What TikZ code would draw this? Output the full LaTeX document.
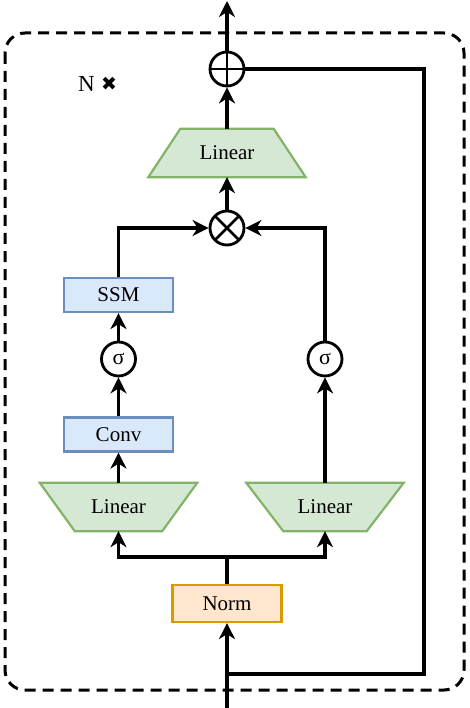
\documentclass[tikz,border=0pt]{standalone}
\usepackage{fontspec}
\setmainfont{Liberation Serif}
\newfontfamily\symfont{DejaVu Sans}
\usetikzlibrary{arrows.meta,backgrounds}
\definecolor{gfill}{HTML}{D5E8D4}
\definecolor{gline}{HTML}{82B366}
\definecolor{bfill}{HTML}{DAE8FC}
\definecolor{bline}{HTML}{6C8EBF}
\definecolor{ofill}{HTML}{FFE6CC}
\definecolor{oline}{HTML}{D79B00}
\tikzset{
  conn/.style={line width=3.4pt, draw=black},
  arr/.style={conn, -{Stealth[length=16pt,width=16pt,inset=5pt]}},
  lintxt/.style={rectangle, minimum width=157pt, minimum height=48pt, inner sep=0pt,
    font=\fontsize{21}{24}\selectfont},
  trapst/.style={draw=gline, fill=gfill, line width=2.2pt, line join=miter},
  bbox/.style={rectangle, draw=bline, fill=bfill, line width=2.2pt,
    minimum width=109pt, minimum height=34pt, inner sep=0pt, font=\fontsize{21}{24}\selectfont},
  obox/.style={rectangle, draw=oline, fill=ofill, line width=2.2pt,
    minimum width=109pt, minimum height=37pt, inner sep=0pt, font=\fontsize{21}{24}\selectfont},
  opcirc/.style={circle, draw=black, line width=2.8pt, minimum size=34pt, inner sep=0pt, fill=white},
  plusop/.style={opcirc, path picture={
     \draw[line width=2.8pt] (path picture bounding box.north) -- (path picture bounding box.south);
     \draw[line width=2.8pt] (path picture bounding box.west) -- (path picture bounding box.east);}},
  timesop/.style={opcirc, path picture={
     \draw[line width=2.8pt] (path picture bounding box.north west) -- (path picture bounding box.south east);
     \draw[line width=2.8pt] (path picture bounding box.north east) -- (path picture bounding box.south west);}},
  sigop/.style={opcirc, font=\fontsize{22}{24}\selectfont},
}
\begin{document}
\begin{tikzpicture}[x=1pt,y=-1pt]
\useasboundingbox (0,0) rectangle (469,708);
\draw[line width=3pt, dash pattern=on 11pt off 7pt, rounded corners=20pt] (5,33) rectangle (464,690);
\node[font=\fontsize{23}{26}\selectfont, anchor=west, inner sep=0pt] (nlab) at (78,84) {N};
\node[font=\symfont\fontsize{19}{21}\selectfont, inner sep=0pt] (ncross) at (109,84) {✖};

\node[plusop] (plus) at (227,69) {};
\node[lintxt] (lin3) at (227,153) {Linear};
\node[timesop] (times) at (227,228) {};
\node[bbox] (ssm) at (118.5,295) {SSM};
\node[sigop] (sigl) at (118.5,359) {σ};
\node[bbox] (conv) at (118.5,434.5) {Conv};
\node[lintxt] (lin1) at (118.5,507) {Linear};
\node[sigop] (sigr) at (325,359) {σ};
\node[lintxt] (lin2) at (325,507) {Linear};
\node[obox] (norm) at (227,603.5) {Norm};

\begin{scope}[on background layer]
\draw[trapst] ([xshift=32pt]lin3.north west) -- ([xshift=-32pt]lin3.north east)
   -- (lin3.south east) -- (lin3.south west) -- cycle;
\draw[trapst] (lin1.north west) -- (lin1.north east)
   -- ([xshift=-35pt]lin1.south east) -- ([xshift=35pt]lin1.south west) -- cycle;
\draw[trapst] (lin2.north west) -- (lin2.north east)
   -- ([xshift=-37pt]lin2.south east) -- ([xshift=37pt]lin2.south west) -- cycle;
\end{scope}

\coordinate (out) at (227,1);
\coordinate (in) at (227,708);
\coordinate (br) at (227,557);
\coordinate (rs) at (227,674);
\coordinate (rc) at (424,69);

\draw[arr] (plus) -- (out);
\draw[arr] (lin3) -- (plus);
\draw[arr] (times) -- (lin3);
\draw[arr] (ssm.north) |- (times);
\draw[arr] (sigr.north) |- (times);
\draw[arr] (sigl) -- (ssm);
\draw[arr] (conv) -- (sigl);
\draw[arr] (lin1) -- (conv);
\draw[arr] (lin2) -- (sigr);
\draw[conn] (norm) -- (br);
\draw[arr] (br) -| (lin1);
\draw[arr] (br) -| (lin2);
\draw[arr] (in) -- (norm);
\draw[conn] (rs) -| (rc) -- (plus);
\end{tikzpicture}
\end{document}
